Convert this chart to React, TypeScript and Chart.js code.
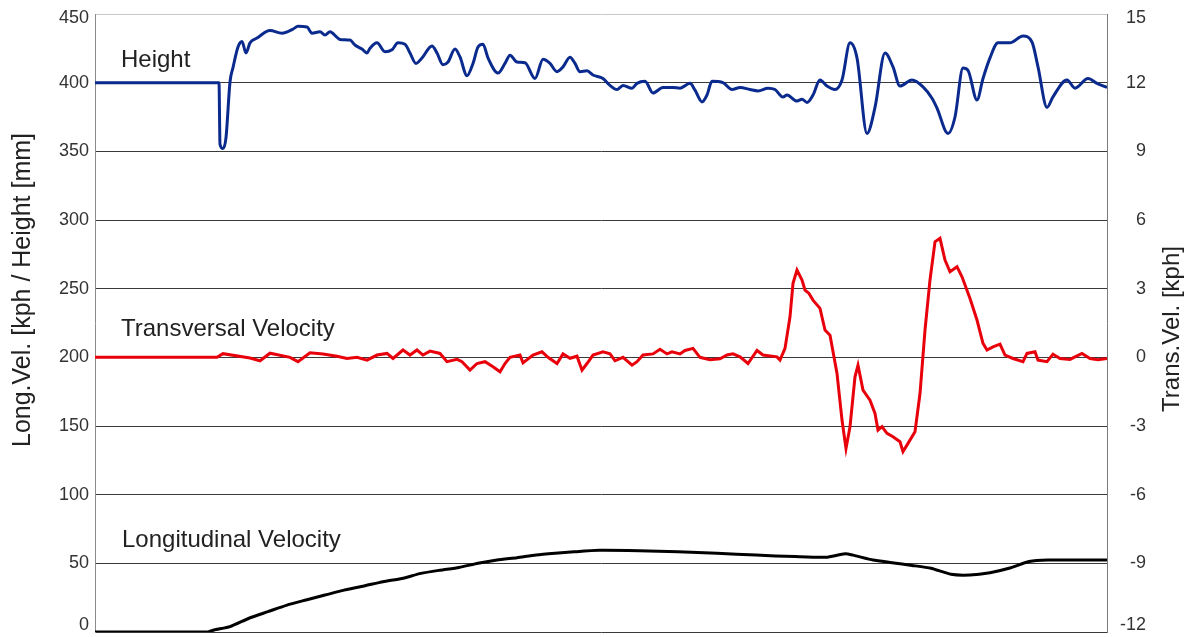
import React, { useEffect, useRef } from "react";
import { Chart, registerables } from "chart.js";

Chart.register(...registerables);

const FONT = "'Liberation Sans', Arial, Helvetica, sans-serif";

// x positions are sample indices along the run
const heightX = [0,124,125,128,131,135,138,143,147,151,155,162,175,187,198,203,212,217,225,230,235,242,245,255,260,267,272,275,282,290,297,303,310,315,321,327,337,342,348,353,360,365,372,378,383,388,393,403,410,415,422,430,440,448,455,462,468,475,480,485,492,498,508,515,522,528,537,542,550,558,568,578,585,595,600,607,612,617,628,637,645,655,663,673,680,688,692,702,707,712,718,725,732,740,747,755,762,772,780,790,798,805,817,828,837,842,853,860,868,873,882,888,895,903,915,928,937,943,952,958,972,980,993,1002,1012];
const heightVal = [400,400,355,352,360,400.5,411,426,430,421.6,429,432.5,438,436,439,441,440.5,436,437,434.7,437,433,431.5,431,427.4,424.5,421.6,425,429,422.5,424,429,428,421.6,414,418,426.7,421.6,413,415,424.5,418.7,405,414,426,428,418,407,414,420,415,414.5,403,417,414,408,411.5,418.5,414,408,408.6,405.6,403,398,395,398,396,399.5,401,392.5,396.5,396.5,396,399.5,394.6,386,391,401,400,395,396.5,395,394,396,395,389.5,391,386.6,388,385.6,391,402,397.5,395,402,429,418,363,382,421.6,411.5,397.5,402,397,388.7,381.5,363,375,410.6,409,387.4,403,418,429,429,434,429.6,411.5,382,389.7,402,396,403,399.5,396.5];

const transX = [0,122,128,155,165,175,195,203,215,228,242,252,262,272,282,292,298,308,315,322,328,335,345,352,362,367,375,382,390,398,405,410,415,425,428,438,447,453,462,468,475,482,487,492,498,508,515,520,528,537,542,548,558,565,572,577,585,590,598,605,615,625,632,638,645,653,662,668,677,682,685,690,695,698,702,707,710,714,718,725,730,735,742,747,751,755,760,763,768,775,780,783,787,792,798,805,808,813,820,825,830,835,840,845,850,855,862,867,875,882,888,892,898,905,910,918,928,932,940,943,952,958,965,975,987,995,1003,1012];
const transVal = [0,0,0.16,-0.03,-0.15,0.18,0,-0.19,0.2,0.15,0.05,-0.05,0,-0.12,0.1,0.17,-0.05,0.32,0.1,0.32,0.1,0.27,0.17,-0.19,-0.09,-0.19,-0.56,-0.27,-0.19,-0.41,-0.63,-0.27,0,0.1,-0.24,0.1,0.24,0,-0.27,0.15,-0.04,0.05,-0.56,-0.27,0.1,0.24,0.15,-0.15,0,-0.34,-0.19,0.1,0.15,0.35,0.15,0.24,0.15,0.3,0.39,0,-0.1,-0.06,0.1,0.15,0.02,-0.27,0.3,0.1,0.05,0.02,-0.12,0.39,1.77,3.23,3.81,3.38,2.94,2.79,2.5,2.14,1.19,0.97,-0.7,-2.74,-3.98,-3.03,-0.85,-0.34,-1.43,-1.87,-2.45,-3.18,-3.03,-3.32,-3.47,-3.69,-4.12,-3.76,-3.25,-1.58,1.19,3.38,5.05,5.2,4.25,3.74,3.96,3.52,2.57,1.63,0.61,0.32,0.46,0.58,0.1,-0.05,-0.19,0.17,0.24,-0.12,-0.19,0.14,-0.05,-0.09,0.17,-0.05,-0.1,-0.05];

const longX = [0,113,119,135,154,173,192,211,230,249,269,288,307,326,345,364,383,402,422,441,460,479,504,544,583,622,661,700,731,750,758,778,797,817,836,856,875,895,914,934,953,1012];
const longVal = [0,0,1.5,3.9,10,14.8,19.6,23.3,26.9,30.5,33.5,36.6,39,42.7,45,47,50,52.4,54.1,56,57.3,58.4,59.5,59.2,58.4,57.3,56,54.9,54.4,57,56,52.4,50.5,48.5,46.4,42,41.5,43.2,46.4,51.3,52.4,52.4];

const seriesNames = ["Height", "Transversal Velocity", "Longitudinal Velocity"];
const leftTitle = "Long.Vel. [kph / Height [mm]";
const rightTitle = "Trans.Vel. [kph]";

const leftMin = 0, leftMax = 450, leftStep = 50;
const rightMin = -12, rightMax = 15, rightStep = 3;

const toPoints = (xs: number[], ys: number[]) => xs.map((x, i) => ({ x, y: ys[i] }));

const noScalePadding = (s: any) => {
  s.paddingTop = 0;
  s.paddingBottom = 0;
  s.paddingLeft = 0;
  s.paddingRight = 0;
};

export default function App() {
  const ref = useRef<HTMLCanvasElement>(null);

  useEffect(() => {
    const canvas = ref.current!;
    const textPlugin = {
      id: "texts",
      afterDraw(chart: any) {
        const ctx = chart.ctx;
        const ca = chart.chartArea;
        const y = chart.scales.y;
        ctx.save();
        ctx.fillStyle = "#222";
        ctx.font = `24px ${FONT}`;
        ctx.textAlign = "left";
        ctx.textBaseline = "alphabetic";
        ctx.fillText(seriesNames[0], ca.left + 26, y.getPixelForValue(411.4));
        ctx.fillText(seriesNames[1], ca.left + 26, y.getPixelForValue(215.5));
        ctx.fillText(seriesNames[2], ca.left + 27, y.getPixelForValue(61.9));

        ctx.textAlign = "center";
        ctx.textBaseline = "middle";
        ctx.font = `25px ${FONT}`;
        ctx.save();
        ctx.translate(23, 290);
        ctx.rotate(-Math.PI / 2);
        ctx.fillText(leftTitle, 0, 0);
        ctx.restore();
        ctx.font = `24px ${FONT}`;
        ctx.save();
        ctx.translate(1172, 329);
        ctx.rotate(-Math.PI / 2);
        ctx.fillText(rightTitle, 0, 0);
        ctx.restore();
        ctx.restore();
      },
    };

    const chart = new Chart(canvas, {
      type: "line",
      data: {
        datasets: [
          {
            label: seriesNames[2],
            data: toPoints(longX, longVal),
            borderColor: "#000000",
            borderWidth: 3,
            pointRadius: 0,
            yAxisID: "y",
            tension: 0.2,
          },
          {
            label: seriesNames[1],
            data: toPoints(transX, transVal),
            borderColor: "#e8000b",
            borderWidth: 3,
            pointRadius: 0,
            yAxisID: "y1",
            tension: 0,
          },
          {
            label: seriesNames[0],
            data: toPoints(heightX, heightVal),
            borderColor: "#0a2a8e",
            borderWidth: 3,
            pointRadius: 0,
            yAxisID: "y",
            cubicInterpolationMode: "monotone",
          },
        ],
      },
      options: {
        responsive: false,
        animation: false,
        events: [],
        devicePixelRatio: 1,
        layout: { autoPadding: false, padding: { top: 14, bottom: 5, left: 0, right: 46 } },
        plugins: { legend: { display: false }, tooltip: { enabled: false } },
        scales: {
          x: { type: "linear", min: 0, max: 1012, display: false },
          y: {
            position: "left",
            min: leftMin,
            max: leftMax,
            afterFit: (s: any) => { s.width = 95; noScalePadding(s); },
            ticks: {
              stepSize: leftStep,
              padding: 6,
              color: "#333",
              font: (c: any) => {
                const v = c.tick ? c.tick.value : null;
                return { family: FONT, size: 18, lineHeight: v === leftMin ? 0.8 : v === leftMax ? 0.4 : 1.2 };
              },
              callback: (v: any) => (v === leftMin ? [String(v), ""] : v === leftMax ? ["", String(v)] : String(v)),
            },
            grid: {
              drawTicks: false,
              lineWidth: 1,
              color: (c: any) => (c.tick && c.tick.value === leftMax ? "#c8c8c8" : "#3a3a3a"),
            },
            border: { display: true, color: "#8a8a8a", width: 1 },
          },
          y1: {
            position: "right",
            min: rightMin,
            max: rightMax,
            afterFit: (s: any) => { s.width = 39; noScalePadding(s); },
            ticks: {
              stepSize: rightStep,
              padding: 0,
              crossAlign: "far",
              color: "#333",
              font: (c: any) => {
                const v = c.tick ? c.tick.value : null;
                return { family: FONT, size: 18, lineHeight: v === rightMin ? 0.8 : v === rightMax ? 0.4 : 1.2 };
              },
              callback: (v: any) => (v === rightMin ? [String(v), ""] : v === rightMax ? ["", String(v)] : String(v)),
            },
            grid: { display: false, drawTicks: false },
            border: { display: true, color: "#7a7a7a", width: 1 },
          },
        },
      },
      plugins: [textPlugin],
    } as any);

    return () => chart.destroy();
  }, []);

  return (
    <div style={{ position: "fixed", left: 0, top: 0, width: 1192, height: 637, background: "#fff" }}>
      <canvas ref={ref} width={1192} height={637} style={{ display: "block", width: 1192, height: 637 }} />
    </div>
  );
}
